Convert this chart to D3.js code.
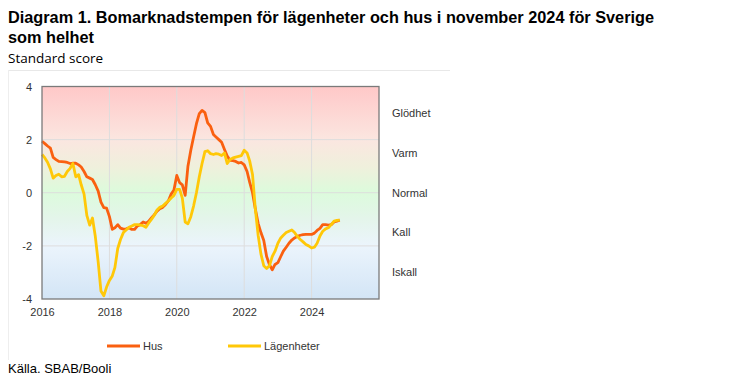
<!DOCTYPE html>
<html>
<head>
<meta charset="utf-8">
<script src="https://cdn.jsdelivr.net/npm/d3@7"></script>
<style>
  body { margin: 0; background: #fff; }
  svg { display: block; }
</style>
</head>
<body>
<div id="chart"></div>
<script>
// monthly values, Jan 2016 - Nov 2024
const hus = [
  1.94, 1.85, 1.76, 1.68, 1.33, 1.25, 1.18, 1.17, 1.16, 1.14, 1.10, 1.11,
  1.11, 1.05, 0.97, 0.80, 0.60, 0.55, 0.50, 0.30, 0.06, -0.35, -0.56, -0.58,
  -0.90, -1.38, -1.32, -1.20, -1.33, -1.37, -1.36, -1.32, -1.38, -1.38, -1.25, -1.20,
  -1.10, -1.15, -1.08, -0.95, -0.83, -0.69, -0.60, -0.55, -0.44, -0.31, -0.05, 0.10,
  0.65, 0.38, 0.30, -0.10, 1.00, 1.60, 2.10, 2.60, 2.98, 3.10, 3.02, 2.63,
  2.50, 2.19, 2.10, 2.00, 1.90, 1.63, 1.38, 1.22, 1.21, 1.18, 1.12, 1.14,
  1.05, 0.80, 0.40, 0.00, -0.60, -1.15, -1.50, -1.80, -2.40, -2.70, -2.90, -2.70,
  -2.63, -2.40, -2.20, -2.05, -1.90, -1.78, -1.70, -1.64, -1.60, -1.58, -1.57, -1.57,
  -1.57, -1.52, -1.42, -1.34, -1.20, -1.20, -1.22, -1.20, -1.10, -1.07, -1.03
];
const lagenheter = [
  1.44, 1.31, 1.15, 0.90, 0.55, 0.65, 0.70, 0.60, 0.62, 0.80, 0.92, 1.10,
  0.60, 0.68, 0.30, -0.05, -0.85, -1.22, -0.95, -1.65, -2.60, -3.70, -3.88, -3.55,
  -3.30, -3.13, -2.82, -2.10, -1.76, -1.50, -1.40, -1.30, -1.25, -1.20, -1.20, -1.22,
  -1.24, -1.30, -1.15, -1.00, -0.85, -0.65, -0.55, -0.50, -0.40, -0.31, -0.20, -0.10,
  0.13, 0.13, -0.20, -1.10, -1.17, -0.90, -0.50, 0.00, 0.60, 1.10, 1.55, 1.58,
  1.47, 1.44, 1.47, 1.45, 1.40, 1.50, 1.10, 1.25, 1.31, 1.34, 1.37, 1.40,
  1.60, 1.50, 1.20, 0.69, -0.60, -1.60, -2.30, -2.75, -2.85, -2.75, -2.40, -2.20,
  -1.90, -1.70, -1.60, -1.50, -1.45, -1.40, -1.50, -1.65, -1.76, -1.85, -1.95, -2.00,
  -2.08, -2.05, -1.90, -1.63, -1.45, -1.36, -1.32, -1.20, -1.07, -1.04, -1.03
];
const startMonth = new Date(2016, 0, 1);
const yTicks = [4, 2, 0, -2, -4];
const xTickYears = [2016, 2018, 2020, 2022, 2024];
const zones = [
  { name: "Glödhet", value: 3 },
  { name: "Varm", value: 1.5 },
  { name: "Normal", value: 0 },
  { name: "Kall", value: -1.5 },
  { name: "Iskall", value: -3 }
];
const series = [
  { name: "Hus", values: hus, color: "#fa6010" },
  { name: "Lägenheter", values: lagenheter, color: "#ffc808" }
];

const width = 740, height = 385;
const plot = { left: 42, right: 379, top: 86.5, bottom: 299 };

const svg = d3.select("#chart").append("svg")
  .attr("width", width)
  .attr("height", height)
  .style("font-family", "Arial, 'Liberation Sans', sans-serif");

// title and subtitle
svg.append("text").attr("x", 8).attr("y", 23)
  .attr("font-size", 16.3).attr("font-weight", "bold").attr("fill", "#000")
  .text("Diagram 1. Bomarknadstempen för lägenheter och hus i november 2024 för Sverige");
svg.append("text").attr("x", 8).attr("y", 43)
  .attr("font-size", 16.3).attr("font-weight", "bold").attr("fill", "#000")
  .text("som helhet");
svg.append("text").attr("x", 8).attr("y", 63)
  .attr("font-size", 13.5).attr("fill", "#000")
  .style("font-family", "'Open Sans', sans-serif")
  .text("Standard score");

// faint frame around chart area
svg.append("line").attr("x1", 8).attr("x2", 450).attr("y1", 70.5).attr("y2", 70.5)
  .attr("stroke", "#e8e8e8");
svg.append("line").attr("x1", 8.5).attr("x2", 8.5).attr("y1", 70).attr("y2", 360)
  .attr("stroke", "#eeeeee");

const x = d3.scaleTime()
  .domain([new Date(2016, 0, 1), new Date(2026, 0, 1)])
  .range([plot.left, plot.right]);
const y = d3.scaleLinear().domain([-4, 4]).range([plot.bottom, plot.top]);

// background gradient
const grad = svg.append("defs").append("linearGradient")
  .attr("id", "bg").attr("x1", 0).attr("x2", 0).attr("y1", 0).attr("y2", 1);
[
  [0, "#ffc8c8"], [0.25, "#fbe6e0"], [0.38, "#eff0dc"], [0.5, "#dcfbdc"],
  [0.62, "#e4f5ea"], [0.75, "#ebf4fc"], [1, "#d3e5f6"]
].forEach(([o, c]) => grad.append("stop").attr("offset", o).attr("stop-color", c));

svg.append("rect")
  .attr("x", plot.left).attr("y", plot.top)
  .attr("width", plot.right - plot.left).attr("height", plot.bottom - plot.top)
  .attr("fill", "url(#bg)");

// grid
svg.append("g").selectAll("line").data(yTicks.filter(d => d > -4 && d < 4)).join("line")
  .attr("x1", plot.left).attr("x2", plot.right)
  .attr("y1", d => y(d)).attr("y2", d => y(d))
  .attr("stroke", "#dddddd").attr("stroke-width", 1);
svg.append("g").selectAll("line").data(xTickYears.slice(1)).join("line")
  .attr("x1", d => x(new Date(d, 0, 1))).attr("x2", d => x(new Date(d, 0, 1)))
  .attr("y1", plot.top).attr("y2", plot.bottom)
  .attr("stroke", "#dddddd").attr("stroke-width", 1);

// lines
const line = d3.line()
  .x((d, i) => x(d3.timeMonth.offset(startMonth, i)))
  .y(d => y(d));

svg.append("g").selectAll("path").data(series).join("path")
  .attr("d", d => line(d.values))
  .attr("fill", "none")
  .attr("stroke", d => d.color)
  .attr("stroke-width", 2.8)
  .attr("stroke-linejoin", "round");

// plot border
svg.append("rect")
  .attr("x", plot.left).attr("y", plot.top)
  .attr("width", plot.right - plot.left).attr("height", plot.bottom - plot.top)
  .attr("fill", "none").attr("stroke", "#7a7a7a").attr("stroke-width", 1.3);

// axes
const yAxis = d3.axisLeft(y).tickValues(yTicks).tickSize(0).tickPadding(10)
  .tickFormat(d => String(d));
svg.append("g").attr("transform", `translate(${plot.left},0)`).call(yAxis)
  .call(g => g.select(".domain").remove())
  .selectAll("text").attr("font-size", 11).attr("fill", "#333")
  .style("font-family", "Arial, 'Liberation Sans', sans-serif");

const xAxis = d3.axisBottom(x)
  .tickValues(xTickYears.map(d => new Date(d, 0, 1)))
  .tickSize(0).tickPadding(9)
  .tickFormat(d3.timeFormat("%Y"));
svg.append("g").attr("transform", `translate(0,${plot.bottom})`).call(xAxis)
  .call(g => g.select(".domain").remove())
  .selectAll("text").attr("font-size", 11).attr("fill", "#333")
  .style("font-family", "Arial, 'Liberation Sans', sans-serif");

// zone labels
svg.append("g").selectAll("text").data(zones).join("text")
  .attr("x", 392).attr("y", d => y(d.value)).attr("dy", "0.35em")
  .attr("font-size", 11).attr("fill", "#333")
  .text(d => d.name);

// legend
const legendX = [107, 228];
const lg = svg.append("g").selectAll("g").data(series).join("g")
  .attr("transform", (d, i) => `translate(${legendX[i]},346)`);
lg.append("line").attr("x1", 0).attr("x2", 33).attr("y1", 0).attr("y2", 0)
  .attr("stroke", d => d.color).attr("stroke-width", 2.8);
lg.append("text").attr("x", 36).attr("y", 0).attr("dy", "0.35em")
  .attr("font-size", 11).attr("fill", "#333").text(d => d.name);

// source
svg.append("text").attr("x", 8).attr("y", 373)
  .attr("font-size", 13).attr("fill", "#000")
  .text("Källa. SBAB/Booli");
</script>
</body>
</html>
